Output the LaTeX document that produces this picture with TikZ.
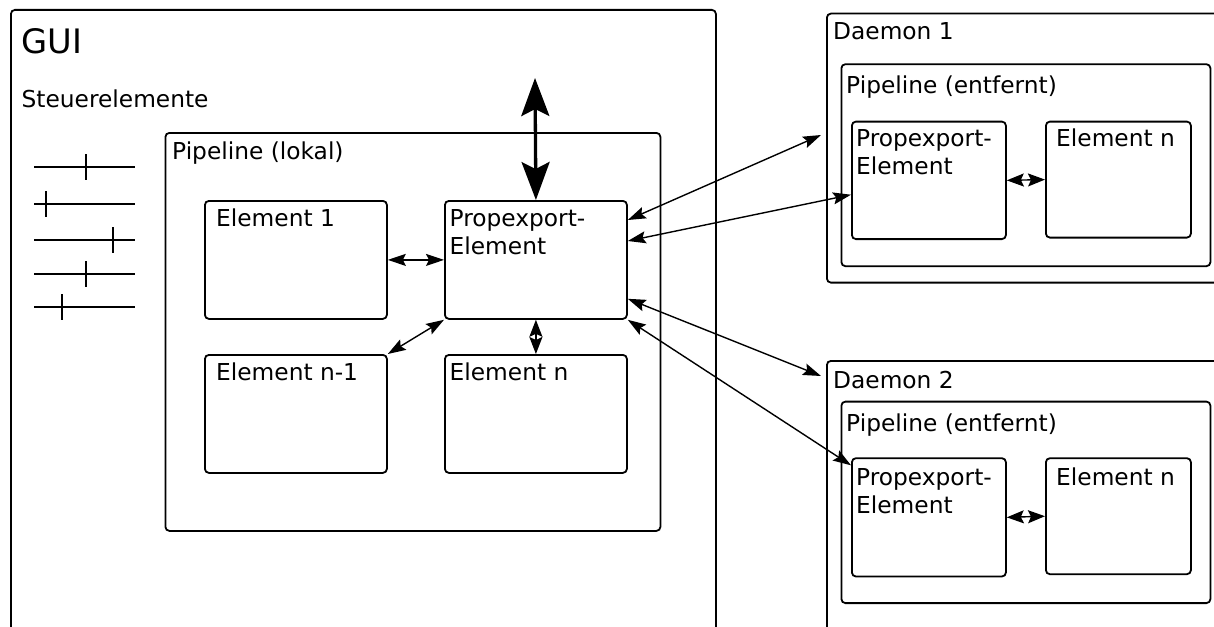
\documentclass[tikz,border=0pt]{standalone}
\usepackage{fontspec}
\setmainfont{DejaVu Sans}
\usetikzlibrary{arrows.meta}

\tikzset{
    box/.style={draw, line width=1.8pt, rounded corners=4pt, anchor=north west, inner sep=0pt},
    lbl/.style={anchor=base west, inner sep=0pt, align=left, font=\fontsize{23.3}{28}\selectfont},
    conn/.style={line width=1.4pt, {Stealth[length=18pt,width=12pt,inset=3pt]}-{Stealth[length=18pt,width=12pt,inset=3pt]}},
    shortconn/.style={line width=1.4pt, {Stealth[length=17pt,width=13pt,inset=3pt]}-{Stealth[length=17pt,width=13pt,inset=3pt]}},
    bigconn/.style={line width=3.3pt, {Stealth[length=38pt,width=28pt,inset=7pt]}-{Stealth[length=38pt,width=28pt,inset=7pt]}},
    slider/.style={line width=1.8pt}
}

\begin{document}
\begin{tikzpicture}[x=1pt,y=-1pt]
    \useasboundingbox (0,0) rectangle (1214,626);
    \clip (0,0) rectangle (1214,626);

    \begin{scope}[every node/.style={box}]
        \node[minimum width=705pt, minimum height=640pt] (gui) at (10,9) {};
        \node[minimum width=495pt, minimum height=398pt] (pipelokal) at (164.5,132) {};
        \node[minimum width=182pt, minimum height=118pt] (elem1) at (204,200) {};
        \node[minimum width=182pt, minimum height=118pt] (propexp) at (444,200) {};
        \node[minimum width=182pt, minimum height=118pt] (elemnm1) at (204,354) {};
        \node[minimum width=182pt, minimum height=118pt] (elemn) at (444,354) {};

        \node[minimum width=420pt, minimum height=269pt] (daemon1) at (826,12.7) {};
        \node[minimum width=369pt, minimum height=202pt] (pipe1) at (840.5,63.3) {};
        \node[minimum width=154pt, minimum height=117.5pt] (propexp1) at (851,120.7) {};
        \node[minimum width=145pt, minimum height=116pt] (elemn1) at (1045,120.7) {};

        \node[minimum width=420pt, minimum height=300pt] (daemon2) at (826,360) {};
        \node[minimum width=369pt, minimum height=201.5pt] (pipe2) at (840.5,400.7) {};
        \node[minimum width=154pt, minimum height=118.3pt] (propexp2) at (851,457.3) {};
        \node[minimum width=145pt, minimum height=116pt] (elemn2) at (1045,457.3) {};
    \end{scope}

    \begin{scope}[every node/.style={lbl}]
        \node[font=\fontsize{33.7}{40}\selectfont] (guitxt) at (21.5,53) {GUI};
        \node (steuertxt) at (21.5,107) {Steuerelemente};
        \node (pipelokaltxt) at (172,159) {Pipeline (lokal)};
        \node (elem1txt) at (216,226) {Element 1};
        \node (propexptxt) at (449.5,254) {Propexport-\\Element};
        \node (elemnm1txt) at (216,380) {Element n-1};
        \node (elemntxt) at (449.5,380) {Element n};

        \node (daemon1txt) at (833,40) {Daemon 1};
        \node (pipe1txt) at (846,93.3) {Pipeline (entfernt)};
        \node (propexp1txt) at (856,174.7) {Propexport-\\Element};
        \node (elemn1txt) at (1056,146.7) {Element n};

        \node (daemon2txt) at (833,388.3) {Daemon 2};
        \node (pipe2txt) at (846,431) {Pipeline (entfernt)};
        \node (propexp2txt) at (856,513) {Propexport-\\Element};
        \node (elemn2txt) at (1056,485) {Element n};
    \end{scope}

    \foreach \y/\t in {167/86, 204/45.7, 240/112.7, 274/86, 307/62.3} {
        \draw[slider] (34,\y) -- (135,\y);
        \draw[slider] (\t,\y-13) -- (\t,\y+13);
    }

    \coordinate (ctrl) at (535,78);
    \coordinate (d1in) at (821,135);
    \coordinate (d2in) at (821,376);

    \draw[bigconn] (ctrl) -- (propexp.north);
    \draw[conn] (elem1.east) -- (propexp.west);
    \draw[conn] (elemnm1.north east) -- (propexp.south west);
    \draw[shortconn] (propexp.south) -- (elemn.north);

    \draw[conn] ([yshift=-20pt]propexp.north east) -- (d1in);
    \draw[conn] ([yshift=-41pt]propexp.north east) -- ([yshift=-74pt]propexp1.north west);
    \draw[conn] ([yshift=21pt]propexp.south east) -- (d2in);
    \draw[conn] (propexp.south east) -- ([yshift=-8pt]propexp2.north west);

    \draw[shortconn] (propexp1.east) -- (elemn1.west);
    \draw[shortconn] (propexp2.east) -- (elemn2.west);
\end{tikzpicture}
\end{document}
